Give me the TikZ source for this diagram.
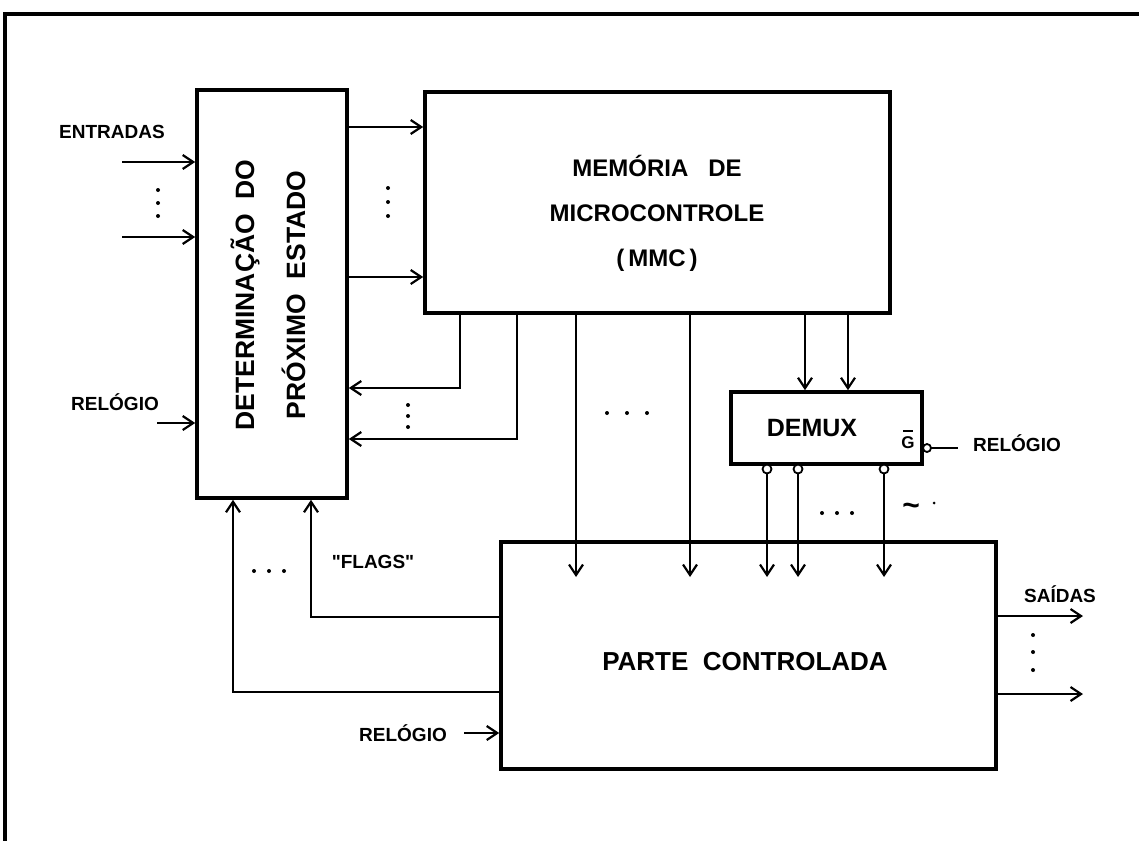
\documentclass[tikz,border=0pt]{standalone}
\usepackage{fontspec}
\setmainfont{Liberation Sans}
\newfontfamily\qfont[Ligatures=TeXOff]{Liberation Sans}
\usetikzlibrary{arrows.meta,calc}
\begin{document}
\begin{tikzpicture}[x=1pt,y=-1pt,
  box/.style={draw,line width=3.6pt,inner sep=0pt},
  wire/.style={line width=2.2pt},
  arr/.style={line width=2.2pt,-{Straight Barb[length=10.5pt,width=14pt]}},
  lbl/.style={inner sep=0pt,font=\bfseries\fontsize{19}{22}\selectfont},
  dot/.style={fill=black},
  bub/.style={draw,line width=1.8pt,fill=white}
]
\useasboundingbox (0,0) rectangle (1139,841);
% outer frame
\coordinate (ftl) at (5,14);
\coordinate (ftr) at (1139,14);
\coordinate (fbl) at (5,841);
\draw[line width=3.6pt] (ftr) -- (ftl) -- (fbl);

% boxes
\node[box,minimum width=150pt,minimum height=408pt] (dpe) at (272,294) {};
\node[box,minimum width=465pt,minimum height=221pt] (mmc) at (657.5,202.5) {};
\node[box,minimum width=191pt,minimum height=72pt] (demux) at (826.5,428) {};
\node[box,minimum width=495pt,minimum height=227pt] (pc) at (748.5,655.5) {};

% box texts
\node[inner sep=0pt,rotate=90,align=center,font=\bfseries\fontsize{26.5}{51}\selectfont] (dpet) at (268,295) {DETERMINAÇÃO\ \ DO\\PRÓXIMO\ \ ESTADO};
\node[inner sep=0pt,align=center,font=\bfseries\fontsize{24}{45}\selectfont] (mmct) at (657,213) {MEMÓRIA\ \ \ DE\\MICROCONTROLE\\(\,MMC\,)};
\node[inner sep=0pt,font=\bfseries\fontsize{25}{30}\selectfont] (demuxt) at (812,428) {DEMUX};
\node[inner sep=0pt,font=\bfseries\fontsize{26}{32}\selectfont] (pct) at (745,662) {PARTE\ \ CONTROLADA};

% entradas
\node[lbl] (entr) at (112,132) {ENTRADAS};
\coordinate (e1) at (122,162);
\coordinate (e2) at (122,237);
\draw[arr] (e1) -- (e1 -| dpe.west);
\draw[arr] (e2) -- (e2 -| dpe.west);
\foreach \y in {190,203,216} \fill[dot] (158,\y) circle (2pt);
\node[lbl] (rel1) at (115,402) {RELÓGIO};
\coordinate (r1) at (157,423);
\draw[arr] (r1) -- (r1 -| dpe.west);

% dpe -> mmc
\coordinate (d1) at (347,127);
\coordinate (d2) at (347,277);
\draw[arr] (d1) -- (d1 -| mmc.west);
\draw[arr] (d2) -- (d2 -| mmc.west);
\foreach \y in {188,202,216} \fill[dot] (388,\y) circle (2pt);

% mmc -> dpe return
\coordinate (m1) at (460,313);
\coordinate (m2) at (517,313);
\coordinate (m1b) at (460,388);
\coordinate (m2b) at (517,439);
\draw[arr] (m1) -- (m1b) -- (m1b -| dpe.east);
\draw[arr] (m2) -- (m2b) -- (m2b -| dpe.east);
\foreach \y in {405,416,427} \fill[dot] (408,\y) circle (2pt);

% mmc -> pc
\coordinate (p1) at (576,313);
\coordinate (p2) at (690,313);
\draw[arr] (p1) -- (576,577);
\draw[arr] (p2) -- (690,577);
\foreach \x in {607,627,647} \fill[dot] (\x,413) circle (2pt);

% mmc -> demux
\coordinate (q1) at (805,313);
\coordinate (q2) at (848,313);
\draw[arr] (q1) -- (q1 |- demux.north);
\draw[arr] (q2) -- (q2 |- demux.north);

% demux outputs
\foreach \x in {767,798,884} {
  \draw[arr] (\x,474) -- (\x,577);
  \draw[bub] (\x,469) circle (4.5pt);
}
\foreach \x in {822,837,852} \fill[dot] (\x,513) circle (2pt);
\node[inner sep=0pt,font=\bfseries\fontsize{30}{32}\selectfont] (tl) at (911,509) {\~{}};
\fill (934,503) circle (1.5pt);

% G bar and relogio
\node[inner sep=0pt,font=\bfseries\fontsize{17}{20}\selectfont] (gb) at (908,443) {G};
\draw[line width=1.6pt] (903,431) -- (913,431);
\draw[bub] (927,448) circle (4pt);
\coordinate (gr) at (958,448);
\draw[wire] (931,448) -- (gr);
\node[lbl] (rel2) at (1017,443) {RELÓGIO};

% pc -> dpe
\coordinate (f1) at (502,617);
\coordinate (f2) at (502,692);
\coordinate (f1b) at (311,617);
\coordinate (f2b) at (233,692);
\draw[arr] (f1) -- (f1b) -- (f1b |- dpe.south);
\draw[arr] (f2) -- (f2b) -- (f2b |- dpe.south);
\node[lbl] (flags) at (373,562) {\qfont\bfseries "FLAGS"};
\foreach \x in {254,269,284} \fill[dot] (\x,571) circle (2pt);

% relogio pc
\node[lbl] (rel3) at (403,733) {RELÓGIO};
\coordinate (r3) at (464,733);
\draw[arr] (r3) -- (r3 -| pc.west);

% saidas
\coordinate (s1) at (1083,616);
\coordinate (s2) at (1083,694);
\draw[arr] (s1 -| pc.east) -- (s1);
\draw[arr] (s2 -| pc.east) -- (s2);
\foreach \y in {635,652,670} \fill[dot] (1033,\y) circle (2pt);
\node[lbl] (said) at (1060,594) {SAÍDAS};
\end{tikzpicture}
\end{document}
